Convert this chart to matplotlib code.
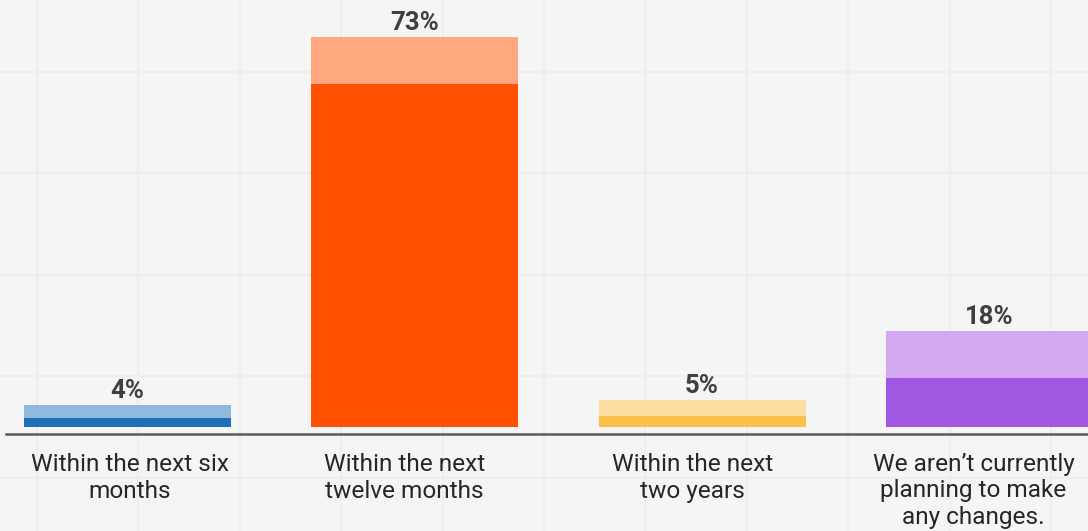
import matplotlib
matplotlib.use("Agg")
import matplotlib.pyplot as plt

categories = ["Within the next six\nmonths",
              "Within the next\ntwelve months",
              "Within the next\ntwo years",
              "We aren\u2019t currently\nplanning to make\nany changes."]
values = [4, 73, 5, 18]
value_labels = ["4%", "73%", "5%", "18%"]

dark_colors = ["#1f70b8", "#ff5000", "#fbbf4c", "#a058e3"]
light_colors = ["#8fb8dd", "#ffa880", "#fcdea3", "#d3a8f0"]

W, H = 1088, 531
fig = plt.figure(figsize=(W / 100, H / 100), dpi=100)
fig.patch.set_facecolor("#f5f5f5")

# decorative background grid (pixel coordinates)
bg = fig.add_axes([0, 0, 1, 1], zorder=0)
bg.set_xlim(0, W)
bg.set_ylim(H, 0)
bg.set_facecolor("#f5f5f5")
step = 101.4
bg.set_xticks([37 + step * k for k in range(11)])
bg.set_yticks([72 + step * k for k in range(5)])
bg.grid(True, color="#eeeeee", linewidth=1.6)
bg.tick_params(length=0, labelbottom=False, labelleft=False)
for s in bg.spines.values():
    s.set_visible(False)

ax = fig.add_axes([0, 0, 1, 1], zorder=1)
ax.patch.set_alpha(0)
px_per_unit = 5.342
base_px = 426.7
ax.set_ylim(-(H - base_px) / px_per_unit, base_px / px_per_unit)
spacing = 287.3
x0 = 127.5
ax.set_xlim(-x0 / spacing, (W - x0) / spacing)

xs = list(range(len(values)))
bar_w = 207 / spacing
cap = 47 / px_per_unit
light_h = [min(0.6 * v, cap) for v in values]
dark_h = [v - l for v, l in zip(values, light_h)]

ax.bar(xs, dark_h, width=bar_w, color=dark_colors, linewidth=0)
ax.bar(xs, light_h, bottom=dark_h, width=bar_w, color=light_colors, linewidth=0)

ax.axhline(-7.6 / px_per_unit, xmin=6 / W, xmax=1, color="#5a5a5a", linewidth=1.8, clip_on=False)

font = ["Roboto", "DejaVu Sans"]
for x, v, lab in zip(xs, values, value_labels):
    ax.text(x, v + 1.3, lab, ha="center", va="baseline", fontsize=18.5,
            fontweight="bold", color="#3f3f3f", family=font)

label_shift_px = [2.5, -10, -9.5, -16]
line_px = 26.0
for x, c, sh in zip(xs, categories, label_shift_px):
    n = c.count("\n")
    last_baseline_px = 471.7 + line_px * n
    ax.text(x + sh / spacing, -(last_baseline_px - base_px) / px_per_unit, c,
            ha="center", va="baseline", fontsize=17.6, color="#262626",
            linespacing=1.19, family=font)

ax.axis("off")
fig.savefig("out.png", dpi=100, facecolor=fig.get_facecolor())
